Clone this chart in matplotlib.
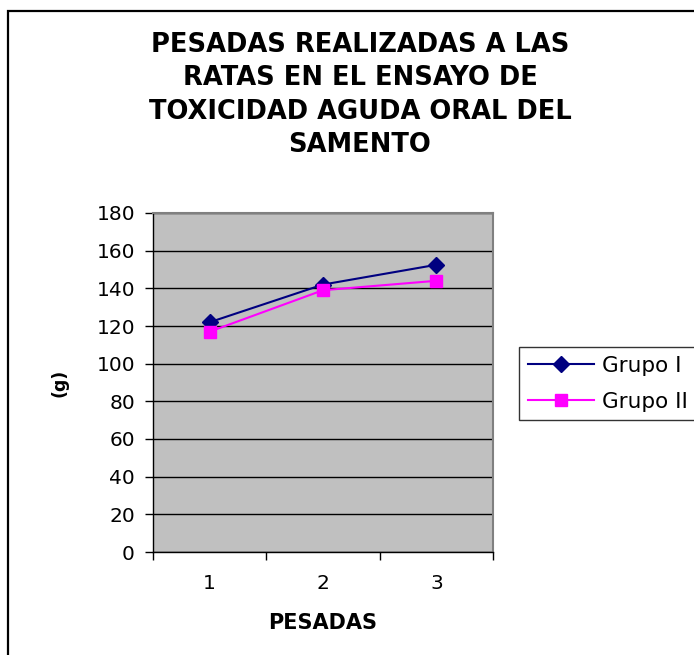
import matplotlib
matplotlib.use("Agg")
import matplotlib.pyplot as plt
from matplotlib.patches import Rectangle

plt.rcParams["font.family"] = ["DejaVu Sans"]

# Datos
pesadas = [1, 2, 3]
grupo_1 = [122, 142, 152.5]
grupo_2 = [117, 139, 144]
etiquetas_y = [0, 20, 40, 60, 80, 100, 120, 140, 160, 180]

W, H = 694, 655
fig = plt.figure(figsize=(W / 100, H / 100), dpi=100)

# Marco exterior del grafico (sale de la imagen por derecha y abajo)
fig.patches.append(Rectangle((8 / W, -0.05), 1.2, 1 - 11 / H + 0.05,
                             transform=fig.transFigure, fill=False,
                             edgecolor="black", linewidth=1.6))

ax = fig.add_axes([153 / W, 103 / H, 340 / W, 339 / H])
ax.set_facecolor("#C0C0C0")
for s in ax.spines.values():
    s.set_color("#808080")
    s.set_linewidth(1.5)
ax.spines["left"].set_color("black")
ax.spines["left"].set_linewidth(1.0)
ax.spines["bottom"].set_color("black")
ax.spines["bottom"].set_linewidth(1.0)

ax.plot(pesadas, grupo_1, color="#000080", marker="D", markersize=8,
        linewidth=1.5, label="Grupo I", zorder=3)
ax.plot(pesadas, grupo_2, color="#FF00FF", marker="s", markersize=8,
        linewidth=1.5, label="Grupo II", zorder=3)

ax.set_ylim(0, 180)
ax.set_yticks(etiquetas_y)
ax.set_xlim(0.5, 3.5)
ax.set_xticks(pesadas)
ax.set_xticks([0.5, 1.5, 2.5, 3.5], minor=True)
ax.yaxis.grid(True, color="black", linewidth=1.0)
ax.set_axisbelow(True)

ax.tick_params(axis="y", direction="out", length=6, width=1, pad=7,
               labelsize=14.5)
ax.tick_params(axis="x", which="major", length=0, pad=16, labelsize=14.5)
ax.tick_params(axis="x", which="minor", direction="out", length=6, width=1)

ax.set_xlabel("PESADAS", fontsize=15, fontweight="bold", labelpad=14)
ax.set_ylabel("(g)", fontsize=12.5, fontweight="bold", labelpad=20)

fig.text(360 / W, 1 - 95 / H,
         "PESADAS REALIZADAS A LAS\nRATAS EN EL ENSAYO DE\nTOXICIDAD AGUDA ORAL DEL\nSAMENTO",
         ha="center", va="center", fontsize=18.5, fontweight="bold",
         linespacing=1.36)

leg = fig.legend(handles=ax.get_lines(), loc="upper left",
                 bbox_to_anchor=(519 / W, 1 - 347 / H), fontsize=15.5,
                 frameon=True, fancybox=False, edgecolor="black",
                 handlelength=3.1, handletextpad=0.35, borderpad=0.4,
                 labelspacing=0.75, borderaxespad=0)
leg.get_frame().set_linewidth(1.0)

plt.savefig("out.png", dpi=100)
plt.close()
